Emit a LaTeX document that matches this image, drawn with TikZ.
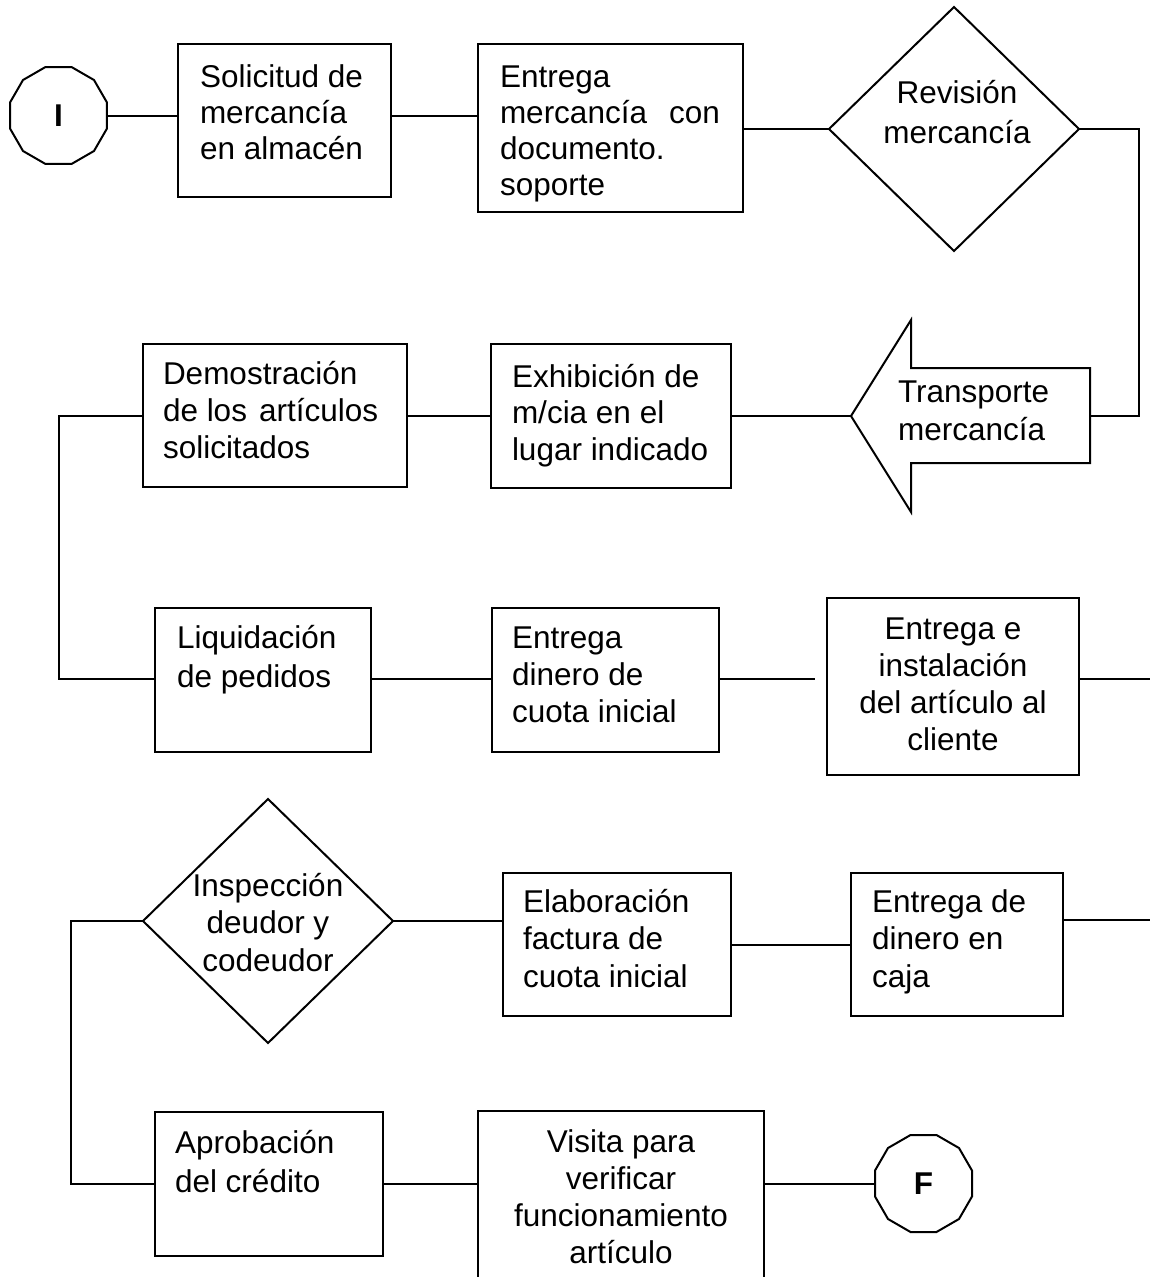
\documentclass[tikz,border=0pt]{standalone}
\usepackage{fontspec}
\setmainfont{Liberation Sans}
\usetikzlibrary{shapes.geometric}
\begin{document}
\begin{tikzpicture}[x=1pt,y=-1pt,
  every node/.style={inner sep=0pt, outer sep=0pt},
  conn/.style={line width=2pt},
  procbox/.style={draw, line width=2pt, rectangle, anchor=north west},
  decision/.style={draw, line width=2pt, diamond},
  terminal/.style={draw, line width=2pt, regular polygon, regular polygon sides=12,
    minimum size=100.4pt, font=\fontsize{31.5}{37.5}\selectfont\bfseries},
  % text nodes are placed by the baseline of their last line
  lbl/.style={font=\fontsize{31.5}{37}\selectfont, align=left, anchor=base west},
  clbl/.style={font=\fontsize{31.5}{37}\selectfont, align=center, anchor=base},
]
\useasboundingbox (0,0) rectangle (1150,1277);
\clip (0,0) rectangle (1150,1277);

% ---- shapes ----
\node[terminal] (I) at (58.5,115.5) {I};
\node[procbox, minimum width=213pt, minimum height=153pt] (b1) at (178,44) {};
\node[procbox, minimum width=265pt, minimum height=168pt] (b2) at (478,44) {};
\node[decision, minimum width=250pt, minimum height=244pt] (d1) at (954,129) {};

% block arrow for the transport step
\draw[line width=2pt, line join=miter]
  (851,416) -- (911,320) -- (911,368) -- (1090,368) -- (1090,463)
  -- (911,463) -- (911,512) -- cycle;
\coordinate (trtip) at (851,416);
\coordinate (trtail) at (1090,416);

\node[procbox, minimum width=240pt, minimum height=144pt] (b3) at (491,344) {};
\node[procbox, minimum width=264pt, minimum height=143pt] (b4) at (143,344) {};
\node[procbox, minimum width=216pt, minimum height=144pt] (b5) at (155,608) {};
\node[procbox, minimum width=227pt, minimum height=144pt] (b6) at (492,608) {};
\node[procbox, minimum width=252pt, minimum height=177pt] (b7) at (827,598) {};
\node[decision, minimum width=250pt, minimum height=244pt] (d2) at (268,921) {};
\node[procbox, minimum width=228pt, minimum height=143pt] (b8) at (503,873) {};
\node[procbox, minimum width=212pt, minimum height=143pt] (b9) at (851,873) {};
\node[procbox, minimum width=228pt, minimum height=144pt] (b10) at (155,1112) {};
\node[procbox, minimum width=286pt, minimum height=200pt] (b11) at (478,1111) {};
\node[terminal] (F) at (923.5,1183.5) {F};

% ---- texts ----
\node[lbl, font=\fontsize{31.5}{36}\selectfont] (t1) at (200,159) {Solicitud de\\mercancía\\en almacén};
\node[lbl, font=\fontsize{31.5}{36}\selectfont] (t2) at (500,195) {Entrega\\mercancía\hspace{22pt}con\\documento.\\soporte};
\node[clbl, font=\fontsize{31.5}{40}\selectfont] (t3) at (957,143) {Revisión\\mercancía};
\node[lbl, font=\fontsize{31.5}{38}\selectfont] (t4) at (898,440) {Transporte\\mercancía};
\node[lbl, font=\fontsize{31.5}{36.5}\selectfont] (t5) at (512,460) {Exhibición de\\m/cia en el\\lugar indicado};
\node[lbl] (t6) at (163,458) {Demostración\\de los\hspace{12pt}artículos\\solicitados};
\node[lbl, font=\fontsize{31.5}{39}\selectfont] (t7) at (177,687) {Liquidación\\de pedidos};
\node[lbl] (t8) at (512,722) {Entrega\\dinero de\\cuota inicial};
\node[clbl] (t9) at (953,750) {Entrega e\\instalación\\del artículo al\\cliente};
\node[clbl, font=\fontsize{31.5}{37.5}\selectfont] (t10) at (268,971) {Inspección\\deudor y\\codeudor};
\node[lbl, font=\fontsize{31.5}{37.5}\selectfont] (t11) at (523,987) {Elaboración\\factura de\\cuota inicial};
\node[lbl, font=\fontsize{31.5}{37.5}\selectfont] (t12) at (872,987) {Entrega de\\dinero en\\caja};
\node[lbl, font=\fontsize{31.5}{39}\selectfont] (t13) at (175,1192) {Aprobación\\del crédito};
\node[clbl] (t14) at (621,1263) {Visita para\\verificar\\funcionamiento\\artículo};

% ---- connectors ----
\coordinate (g1) at (815,679);
\coordinate (e1) at (1150,679);
\coordinate (e2) at (1150,920);

\draw[conn] (I.east) -- (I.east -| b1.west);
\draw[conn] (b1.east |- I.east) -- (I.east -| b2.west);
\draw[conn] (b2.east |- d1.west) -- (d1.west);
\draw[conn] (d1.east) -- ++(60,0) |- (trtail);
\draw[conn] (trtip) -- (trtip -| b3.east);
\draw[conn] (b3.west |- trtip) -- (trtip -| b4.east);
\draw[conn] (b4.west |- trtip) -- ++(-84,0) |- (b5.west |- g1);
\draw[conn] (b5.east |- g1) -- (b6.west |- g1);
\draw[conn] (b6.east |- g1) -- (g1);
\draw[conn] (b7.east |- e1) -- (e1);
\draw[conn] (d2.west) -- ++(-72,0) |- (b10.west);
\draw[conn] (d2.east) -- (d2.east -| b8.west);
\draw[conn] (b8.east) -- (b9.west);
\draw[conn] (b9.east |- e2) -- (e2);
\draw[conn] (b10.east) -- (b10.east -| b11.west);
\draw[conn] (F.west -| b11.east) -- (F.west);
\end{tikzpicture}
\end{document}
